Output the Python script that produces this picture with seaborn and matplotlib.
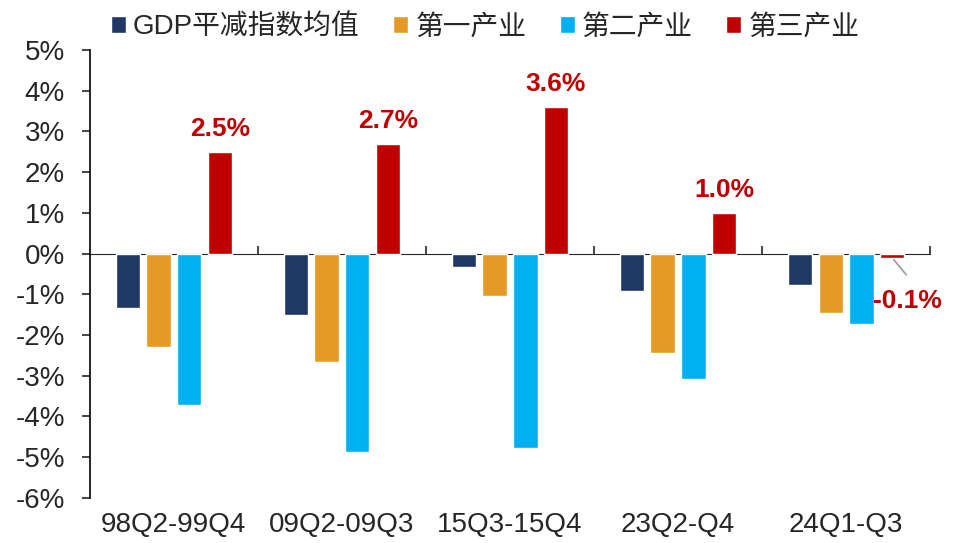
import numpy as np
import pandas as pd
import matplotlib
matplotlib.use("Agg")
import matplotlib.pyplot as plt
import seaborn as sns

# data
periods = ["98Q2-99Q4", "09Q2-09Q3", "15Q3-15Q4", "23Q2-Q4", "24Q1-Q3"]
series = ["GDP平减指数均值", "第一产业", "第二产业", "第三产业"]
gdp_deflator = [-1.33, -1.50, -0.32, -0.91, -0.76]
primary = [-2.30, -2.65, -1.03, -2.43, -1.45]
secondary = [-3.72, -4.88, -4.78, -3.07, -1.72]
tertiary = [2.5, 2.7, 3.6, 1.0, -0.1]
yticks = list(range(-6, 6))
colors = ["#203864", "#E49B26", "#00B0F0", "#C00000"]

df = pd.DataFrame({
    "period": periods * 4,
    "series": np.repeat(series, len(periods)),
    "value": gdp_deflator + primary + secondary + tertiary,
})

sns.set_style("white")
plt.rcParams["font.family"] = ["Liberation Sans", "Noto Sans CJK SC", "DejaVu Sans"]

fig = plt.figure(figsize=(9.55, 5.43), dpi=100)
ax = fig.add_axes([0.094, 0.083, 0.880, 0.825])

sns.barplot(data=df, x="period", y="value", hue="series", order=periods,
            hue_order=series, palette=colors, width=0.73, gap=0.2,
            errorbar=None, saturation=1, ax=ax)

ymin, ymax = yticks[0], yticks[-1]
ax.set_ylim(ymin, ymax)
ax.set_xlim(-0.5, len(periods) - 0.5)
ax.set_yticks(yticks)
ax.set_yticklabels([f"{t}%" for t in yticks], fontsize=20)
ax.set_xticks(range(len(periods)))
ax.set_xticklabels(periods, fontsize=20)
ax.set_xlabel("")
ax.set_ylabel("")
ax.tick_params(axis="x", length=0, pad=10)
ax.tick_params(axis="y", direction="out", length=6, width=1.2, pad=12, left=True)
for s in ["top", "right", "bottom"]:
    ax.spines[s].set_visible(False)
ax.spines["left"].set_color("black")
ax.spines["left"].set_linewidth(1.2)

# zero line with group boundary ticks
zero_frac = (0 - ymin) / (ymax - ymin)
sec = ax.secondary_xaxis(zero_frac)
sec.set_xticks(np.arange(len(periods)) + 0.5)
sec.set_xticklabels([])
sec.tick_params(direction="out", length=6, width=1.2)
sec.spines["bottom"].set_linewidth(1.2)
sec.spines["bottom"].set_color("black")

# labels on 第三产业 bars
for patch, v in zip(ax.containers[3], tertiary):
    cx = patch.get_x() + patch.get_width() / 2
    if v >= 0:
        ax.annotate(f"{v:.1f}%", (cx, v), xytext=(0, 8), textcoords="offset points",
                    ha="center", va="bottom", fontsize=19, fontweight="bold",
                    color="#C00000")
    else:
        ax.annotate(f"{v:.1f}%", (cx, v), xytext=(11, -31), textcoords="offset points",
                    ha="center", va="center", fontsize=19, fontweight="bold",
                    color="#C00000",
                    arrowprops=dict(arrowstyle="-", color="#A0A0A0", lw=1.3,
                                    relpos=(0.65, 1.0), shrinkA=10, shrinkB=2))

ax.legend(ncol=4, loc="center", bbox_to_anchor=(0.508, 0.95), bbox_transform=fig.transFigure,
          frameon=False, fontsize=20, handlelength=0.55, handleheight=0.55,
          handletextpad=0.25, columnspacing=1.2, borderpad=0.2)

fig.savefig("out.png", dpi=100)
